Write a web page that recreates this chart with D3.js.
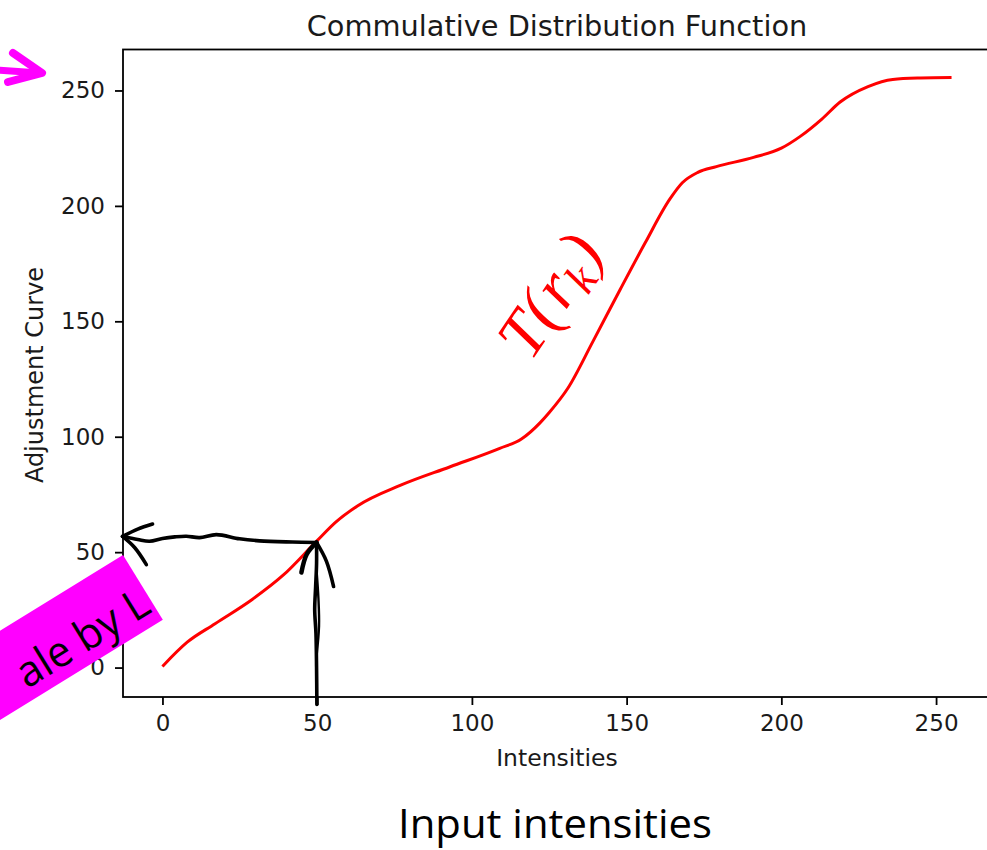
<!DOCTYPE html>
<html>
<head>
<meta charset="utf-8">
<script src="https://cdn.jsdelivr.net/npm/d3@7"></script>
<style>
  html, body { margin: 0; padding: 0; background: #fff; }
  svg { display: block; }
</style>
</head>
<body>
<svg id="chart" width="987" height="850"></svg>
<script>
// ---- data ----
const intensities = [0, 8, 17, 29, 39, 50, 56, 63, 77, 93, 109, 116, 122, 125, 131, 139, 148, 156, 164, 168, 173, 179, 191, 200, 206, 213, 219, 228, 236, 245, 255];
const cdfValues   = [0.5, 11, 19, 29.5, 40, 55, 63, 70, 79, 87, 95, 99, 106, 110.5, 121, 141, 164, 184, 203, 210, 214.5, 217, 221, 225, 230, 237.5, 245, 251.7, 254.8, 255.4, 255.6];
const xTicks = [0, 50, 100, 150, 200, 250];
const yTicks = [0, 50, 100, 150, 200, 250];
const titleText = "Commulative Distribution Function";
const xLabelText = "Intensities";
const yLabelText = "Adjustment Curve";

// hand-drawn annotation strokes, in data coordinates
const hArrowX = [-12.9, -8, -4.2, 0, 4, 7.7, 12, 17.4, 24.9, 31.4, 42, 49.8];
const hArrowY = [56.8, 55.5, 54.7, 55.9, 56.6, 56.9, 56.3, 57.6, 55.8, 54.9, 54.4, 54.2];
const vArrowX = [49.9, 49.8, 49.6, 49.2, 49.5, 49.8, 49.8];
const vArrowY = [-16, 0, 15, 25, 35, 45, 54.2];

(function () {
const svg = d3.select("#chart");
const W = 987, H = 850;
svg.append("rect").attr("width", W).attr("height", H).attr("fill", "#fff");

const mLeft = 123, mRight = 991, mTop = 49.5, mBottom = 697;
const x = d3.scaleLinear().domain([-12.75, 267.75]).range([mLeft, mRight]);
const y = d3.scaleLinear().domain([-12.75, 267.75]).range([mBottom, mTop]);

const tickFont = "'DejaVu Sans', sans-serif";

// curve
const line = d3.line().x((d, i) => x(intensities[i])).y(d => y(d)).curve(d3.curveMonotoneX);
svg.append("path").datum(cdfValues)
  .attr("d", line)
  .attr("fill", "none").attr("stroke", "#ff0000").attr("stroke-width", 3)
  .attr("stroke-linejoin", "round").attr("stroke-linecap", "butt");

// axes
const xAxis = d3.axisBottom(x).tickValues(xTicks).tickSize(8).tickPadding(10).tickFormat(d3.format("d"));
const yAxis = d3.axisLeft(y).tickValues(yTicks).tickSize(8).tickPadding(10).tickFormat(d3.format("d"));
const gx = svg.append("g").attr("transform", `translate(0,${mBottom})`).call(xAxis);
const gy = svg.append("g").attr("transform", `translate(${mLeft},0)`).call(yAxis);
[gx, gy].forEach(g => {
  g.select(".domain").remove();
  g.selectAll(".tick line").attr("stroke", "#000").attr("stroke-width", 1.8);
  g.selectAll(".tick text").attr("fill", "#1a1a1a").style("font-family", tickFont).style("font-size", "23px");
});
gx.selectAll(".tick text").attr("dy", "0.71em");

// spines
svg.append("rect").attr("x", mLeft).attr("y", mTop).attr("width", mRight - mLeft).attr("height", mBottom - mTop)
  .attr("fill", "none").attr("stroke", "#000").attr("stroke-width", 1.8);

// title & labels
svg.append("text").attr("x", (mLeft + mRight) / 2).attr("y", 36).attr("text-anchor", "middle")
  .style("font-family", tickFont).style("font-size", "28.8px").attr("fill", "#1a1a1a").text(titleText);
svg.append("text").attr("x", (mLeft + mRight) / 2).attr("y", 766).attr("text-anchor", "middle")
  .style("font-family", tickFont).style("font-size", "23.5px").attr("fill", "#1a1a1a").text(xLabelText);
svg.append("text").attr("transform", "translate(43,375) rotate(-90)").attr("text-anchor", "middle")
  .style("font-family", tickFont).style("font-size", "24px").attr("fill", "#1a1a1a").text(yLabelText);

// hand-drawn black arrows
const handLine = d3.line().curve(d3.curveCatmullRom);
const hPts = hArrowX.map((v, i) => [x(v), y(hArrowY[i])]);
const vPts = vArrowX.map((v, i) => [x(v), y(vArrowY[i])]);
const ink = g => g.attr("fill", "none").attr("stroke", "#000").attr("stroke-width", 3.6)
  .attr("stroke-linecap", "round").attr("stroke-linejoin", "round");
svg.append("path").attr("d", handLine(hPts)).call(ink);
svg.append("path").attr("d", handLine(vPts)).call(ink);
svg.append("path").attr("d", handLine([[x(49.8), y(5)], [x(50.6), y(18)], [x(50.4), y(30)], [x(49.8), y(42)]])).call(ink).attr("stroke-width", 2.4);
const tipL = [x(-12.9), y(56.8)];
svg.append("path").attr("d", handLine([[x(-3.2), y(62.2)], [x(-8), y(60)], tipL])).call(ink);
svg.append("path").attr("d", handLine([tipL, [x(-9), y(52)], [x(-5.2), y(44.6)]])).call(ink);
const tipV = [x(49.8), y(54.2)];
svg.append("path").attr("d", handLine([tipV, [x(46.6), y(49)], [x(44.9), y(41.2)]])).call(ink).attr("stroke-width", 4.5);
svg.append("path").attr("d", handLine([tipV, [x(53), y(46)], [x(55.3), y(35.1)]])).call(ink);

// T(r_k) annotation
const tLabel = svg.append("text")
  .attr("transform", `translate(${x(131)},${y(156)}) rotate(-56)`)
  .attr("text-anchor", "middle")
  .style("font-family", "'Liberation Serif', 'DejaVu Serif', serif")
  .style("font-style", "italic").style("font-size", "66px").attr("fill", "#ff0000");
tLabel.append("tspan").text("T(");
tLabel.append("tspan").attr("dx", 3).text("r");
tLabel.append("tspan").attr("dy", "0.22em").style("font-size", "46px").text("k");
tLabel.append("tspan").attr("dy", "-0.15em").attr("dx", 3).text(")");

// magenta arrow at top-left
const magenta = "#ff00ff";
svg.append("path").attr("d", "M-5,70 L40,73").attr("stroke", magenta).attr("stroke-width", 7)
  .attr("stroke-linecap", "round").attr("fill", "none");
svg.append("path").attr("d", "M13,53 L42,73 L8,82").attr("stroke", magenta).attr("stroke-width", 8)
  .attr("stroke-linecap", "round").attr("stroke-linejoin", "round").attr("fill", "none");

// magenta rotated box (label cut by the picture's edge)
const box = svg.append("g").attr("transform", "translate(123,555) rotate(-31.6)");
box.append("rect").attr("x", -330).attr("y", 0).attr("width", 330).attr("height", 76).attr("fill", magenta);
box.append("text").attr("x", -152).attr("y", 64).attr("text-anchor", "start")
  .attr("textLength", 148).attr("lengthAdjust", "spacingAndGlyphs")
  .style("font-family", "'Open Sans', sans-serif").style("font-size", "43px").attr("fill", "#000")
  .text("ale by L");

// bottom caption
svg.append("text").attr("x", 555).attr("y", 838).attr("text-anchor", "middle")
  .attr("textLength", 314).attr("lengthAdjust", "spacingAndGlyphs")
  .style("font-family", "'Open Sans', sans-serif").style("font-size", "40px").attr("fill", "#000")
  .text("Input intensities");
})();
</script>
</body>
</html>
